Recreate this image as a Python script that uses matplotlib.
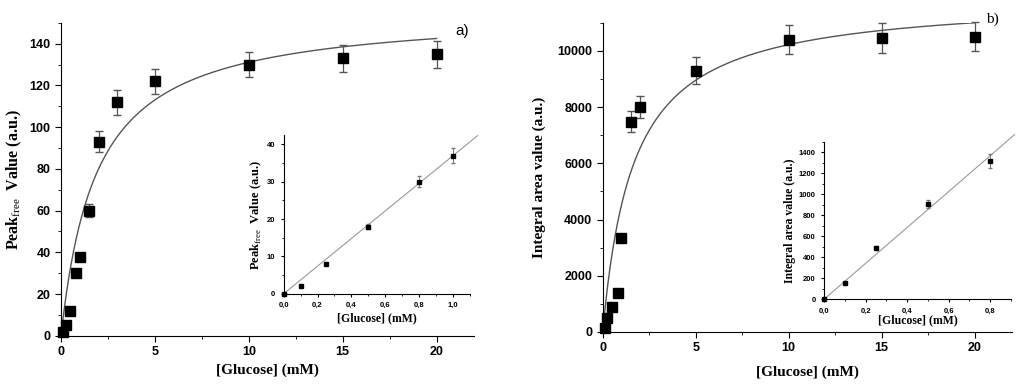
import numpy as np
import matplotlib
matplotlib.use('Agg')
import matplotlib.pyplot as plt
from matplotlib.ticker import MultipleLocator

plt.rcParams['font.family'] = 'Liberation Sans'
plt.rcParams['mathtext.fontset'] = 'custom'
plt.rcParams['mathtext.rm'] = 'Liberation Serif'
plt.rcParams['mathtext.bf'] = 'Liberation Serif:bold'

#%% data, panel a
glc_a = [0.1, 0.25, 0.5, 0.8, 1.0, 1.5, 2, 3, 5, 10, 15, 20]
peak_a = [2, 5, 12, 30, 38, 60, 93, 112, 122, 130, 133, 135]
peak_a_err = [0, 0, 0, 0, 0, 3, 5, 6, 6, 6, 6.5, 6.5]
vmax_a, km_a = 156.0, 1.9

ins_glc_a = [0, 0.1, 0.25, 0.5, 0.8, 1.0]
ins_peak_a = [0, 2, 8, 18, 30, 37]
ins_peak_a_err = [0, 0, 0, 0.7, 1.5, 2]
slope_a = 37.0

#%% data, panel b
glc_b = [0.1, 0.25, 0.5, 0.8, 1.0, 1.5, 2, 5, 10, 15, 20]
area_b = [150, 480, 900, 1380, 3330, 7480, 8000, 9300, 10400, 10450, 10500]
area_b_err = [0, 0, 0, 0, 0, 375, 400, 480, 520, 530, 520]
vmax_b, km_b = 11909.0, 1.65

ins_glc_b = [0, 0.1, 0.25, 0.5, 0.8]
ins_area_b = [0, 160, 485, 910, 1315]
ins_area_b_err = [0, 0, 20, 40, 65]
slope_b = 1710.0

ins_xt_a = ['0,0', '0,2', '0,4', '0,6', '0,8', '1,0']
ins_xt_b = ['0,0', '0,2', '0,4', '0,6', '0,8']

serif = 'Liberation Serif'
ylab_a = r'Peak$_{\mathrm{free}}$  Value (a.u.)'
ylab_b = 'Integral area value (a.u.)'
xlab = '[Glucose] (mM)'
fitcol = '#555555'


def style(ax, fs):
    ax.spines['top'].set_visible(False)
    ax.spines['right'].set_visible(False)
    ax.tick_params(which='both', direction='out', labelsize=fs)
    ax.tick_params(which='major', length=4)
    ax.tick_params(which='minor', length=2.5)
    for t in ax.get_xticklabels() + ax.get_yticklabels():
        t.set_fontweight('bold')


fig = plt.figure(figsize=(10.24, 3.86), dpi=100)

#%% panel a
ax = fig.add_axes([0.0596, 0.130, 0.4034, 0.811])
xf = np.linspace(0, 20, 300)
ax.plot(xf, vmax_a * xf / (km_a + xf), color=fitcol, lw=1)
ax.errorbar(glc_a, peak_a, yerr=peak_a_err, fmt='s', color='black', ms=7,
            ecolor=fitcol, elinewidth=0.9, capsize=3, clip_on=False)
ax.set_xlim(0, 22)
ax.set_ylim(0, 150)
ax.xaxis.set_major_locator(MultipleLocator(5))
ax.xaxis.set_minor_locator(MultipleLocator(2.5))
ax.yaxis.set_major_locator(MultipleLocator(20))
ax.yaxis.set_minor_locator(MultipleLocator(10))
style(ax, 9)
ax.set_xlabel(xlab, family=serif, fontweight='bold', fontsize=11)
ax.set_ylabel(ylab_a, family=serif, fontweight='bold', fontsize=11.5)
fig.text(0.445, 0.91, 'a)', fontsize=11)

ia = fig.add_axes([0.277, 0.239, 0.182, 0.411])
xl = np.linspace(0, 1.145, 10)
ia.plot(xl, slope_a * xl, color='#999999', lw=0.8, clip_on=False)
ia.errorbar(ins_glc_a, ins_peak_a, yerr=ins_peak_a_err, fmt='s', color='black',
            ms=3, ecolor='#777777', elinewidth=0.7, capsize=1.5, clip_on=False)
ia.set_xlim(0, 1.1)
ia.set_ylim(0, 42.5)
ia.set_xticks([0, 0.2, 0.4, 0.6, 0.8, 1.0])
ia.set_xticklabels(ins_xt_a)
ia.xaxis.set_minor_locator(MultipleLocator(0.1))
ia.yaxis.set_major_locator(MultipleLocator(10))
ia.yaxis.set_minor_locator(MultipleLocator(5))
style(ia, 5.5)
ia.tick_params(which='major', length=2.5)
ia.tick_params(which='minor', length=1.5)
ia.set_xlabel(xlab, family=serif, fontweight='bold', fontsize=8.5, labelpad=2)
ia.set_ylabel(ylab_a, family=serif, fontweight='bold', fontsize=9, labelpad=2)

#%% panel b
bx = fig.add_axes([0.5886, 0.140, 0.3994, 0.801])
bx.plot(xf, vmax_b * xf / (km_b + xf), color=fitcol, lw=1)
bx.errorbar(glc_b, area_b, yerr=area_b_err, fmt='s', color='black', ms=7,
            ecolor=fitcol, elinewidth=0.9, capsize=3, clip_on=False)
bx.set_xlim(0, 22)
bx.set_ylim(0, 11000)
bx.xaxis.set_major_locator(MultipleLocator(5))
bx.xaxis.set_minor_locator(MultipleLocator(2.5))
bx.yaxis.set_major_locator(MultipleLocator(2000))
bx.yaxis.set_minor_locator(MultipleLocator(1000))
style(bx, 9)
bx.set_xlabel(xlab, family=serif, fontweight='bold', fontsize=11, labelpad=8)
bx.set_ylabel(ylab_b, family=serif, fontweight='bold', fontsize=11, labelpad=8)
fig.text(0.963, 0.94, 'b)', family=serif, fontsize=11)

ib = fig.add_axes([0.8047, 0.2246, 0.1826, 0.408])
xl = np.linspace(0, 0.917, 10)
ib.plot(xl, slope_b * xl, color='#999999', lw=0.8, clip_on=False)
ib.errorbar(ins_glc_b, ins_area_b, yerr=ins_area_b_err, fmt='s', color='black',
            ms=3, ecolor='#777777', elinewidth=0.7, capsize=1.5, clip_on=False)
ib.set_xlim(0, 0.9)
ib.set_ylim(0, 1500)
ib.set_xticks([0, 0.2, 0.4, 0.6, 0.8])
ib.set_xticklabels(ins_xt_b)
ib.xaxis.set_minor_locator(MultipleLocator(0.1))
ib.yaxis.set_major_locator(MultipleLocator(200))
ib.yaxis.set_minor_locator(MultipleLocator(100))
style(ib, 5.5)
ib.tick_params(which='major', length=2.5)
ib.tick_params(which='minor', length=1.5)
ib.set_xlabel(xlab, family=serif, fontweight='bold', fontsize=8.5, labelpad=0)
ib.set_ylabel(ylab_b, family=serif, fontweight='bold', fontsize=8.5, labelpad=2)

fig.savefig('out.png', dpi=100)
